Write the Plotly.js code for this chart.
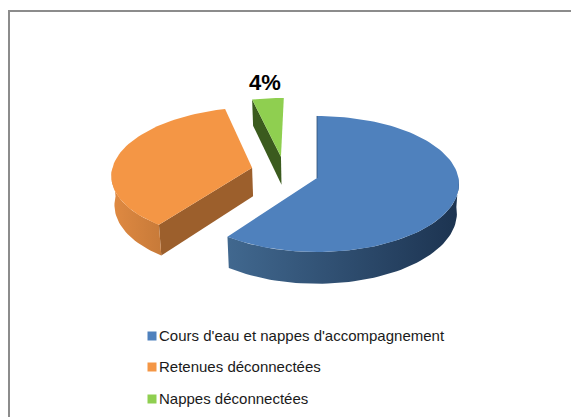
<!DOCTYPE html>
<html><head><meta charset="utf-8">
<script src="https://cdn.plot.ly/plotly-3.0.1.min.js"></script>
<style>html,body{margin:0;padding:0;background:#fff}</style></head>
<body><div id="c" style="width:571px;height:417px"></div>
<script>
// Data
const categories = ["Cours d'eau et nappes d'accompagnement", "Retenues déconnectées", "Nappes déconnectées"];
const shares = [60, 36, 4];
const sliceLabels = ["", "", "4%"];
const topColors = ["#4f81bd", "#f49645", "#8fcf50"];
const wallColors = [["#41688f", "#1c3350"], ["#e08a42", "#c77a39"], ["#3c5a20", "#3c5a20"]];
const cutColors = ["#2a4567", "#9c5f2c", "#3b5b1e"];
const legendY = [336, 367, 399];
// Projection of the tilted, exploded pie onto the page
const P = {cx: 317, cy: 178, rx: 141.5, ry: 67.5, k: 0.088, depth: 29, inset: 0.985};
const offsets = [[0, 0], [-0.465, 0.155], [-0.262, 0.325]];

function proj(u, v, low) {
  const s = 1 / (1 + P.k * v);
  const f = low ? P.inset : 1;
  return [P.cx + P.rx * u * s * f, P.cy - P.ry * v * s + (low ? P.depth * s : 0)];
}
function rim(i, a0, a1, low) {
  const pts = [], n = Math.max(2, Math.ceil((a1 - a0) / 2));
  for (let j = 0; j <= n; j++) {
    const a = (a0 + (a1 - a0) * j / n) * Math.PI / 180;
    pts.push(proj(offsets[i][0] + Math.sin(a), offsets[i][1] + Math.cos(a), low));
  }
  return pts;
}
function poly(pts, color, grad) {
  const t = {type: 'scatter', mode: 'lines', x: pts.map(p => p[0]).concat(pts[0][0]),
    y: pts.map(p => p[1]).concat(pts[0][1]), fill: 'toself', line: {width: 0}, hoverinfo: 'skip',
    showlegend: false, fillcolor: color};
  if (grad) t.fillgradient = {type: 'horizontal', colorscale: [[0, grad[0]], [1, grad[1]]]};
  return t;
}
const traces = [];
let start = 0;
const angles = shares.map(v => { const r = [start, start + v * 3.6]; start = r[1]; return r; });
angles.forEach((r, i) => {
  const apexT = proj(offsets[i][0], offsets[i][1], false);
  const apexB = proj(offsets[i][0], offsets[i][1], true);
  const [a0, a1] = r;
  // radial cut faces that turn toward the viewer
  if (i > 0) {
    const e = proj(offsets[i][0] + Math.sin(a0 * Math.PI / 180), offsets[i][1] + Math.cos(a0 * Math.PI / 180), false);
    const eb = proj(offsets[i][0] + Math.sin(a0 * Math.PI / 180), offsets[i][1] + Math.cos(a0 * Math.PI / 180), true);
    traces.push(poly([apexT, e, eb, apexB], cutColors[i]));
  }
  // outer curved wall, front part only
  const w0 = Math.max(a0, 90), w1 = Math.min(a1, 270);
  if (w1 > w0) {
    const top = rim(i, w0, w1, false), low = rim(i, w0, w1, true).reverse();
    traces.push(poly(top.concat(low), wallColors[i][1], wallColors[i]));
  }
  // top face
  traces.push(poly([apexT].concat(rim(i, a0, a1, false)), topColors[i]));
});
// Slim shaded edge behind the blue slice's vertical cut
const bA = proj(offsets[0][0], offsets[0][1], false), bB = proj(offsets[0][0], offsets[0][1] + 1, false);
traces.push({type: 'scatter', mode: 'lines', x: [bA[0], bB[0]], y: [bA[1], bB[1]], line: {color: '#2f4f75', width: 0.8}, hoverinfo: 'skip', showlegend: false});
// Legend
traces.push({type: 'scatter', mode: 'markers', x: categories.map(() => 152), y: legendY,
  marker: {symbol: 'square', size: 9, color: topColors}, hoverinfo: 'skip', showlegend: false});
traces.push({type: 'scatter', mode: 'text', x: categories.map(() => 159), y: legendY.map(v => v + 1.5),
  text: categories, textposition: 'middle right',
  textfont: {family: 'Liberation Sans, Arial, sans-serif', size: 15, color: '#1a1a1a'}, hoverinfo: 'skip', showlegend: false});
// Slice data label
traces.push({type: 'scatter', mode: 'text', x: [265], y: [84], text: [sliceLabels[2]], textposition: 'middle center',
  textfont: {family: 'Liberation Sans, Arial, sans-serif', size: 22, color: '#000', weight: 700}, hoverinfo: 'skip', showlegend: false});

const layout = {
  width: 571, height: 417, margin: {l: 0, r: 0, t: 0, b: 0}, paper_bgcolor: '#fff', plot_bgcolor: '#fff', showlegend: false,
  xaxis: {range: [0, 571], visible: false, fixedrange: true},
  yaxis: {range: [417, 0], visible: false, fixedrange: true},
  shapes: [
    {type: 'line', xref: 'x', yref: 'y', x0: 9, x1: 571, y0: 11, y1: 11, line: {color: '#8c8c8c', width: 2}},
    {type: 'line', xref: 'x', yref: 'y', x0: 9, x1: 9, y0: 10, y1: 417, line: {color: '#8c8c8c', width: 2}}
  ]
};
Plotly.newPlot('c', traces, layout, {displayModeBar: false, staticPlot: true});
</script></body></html>
